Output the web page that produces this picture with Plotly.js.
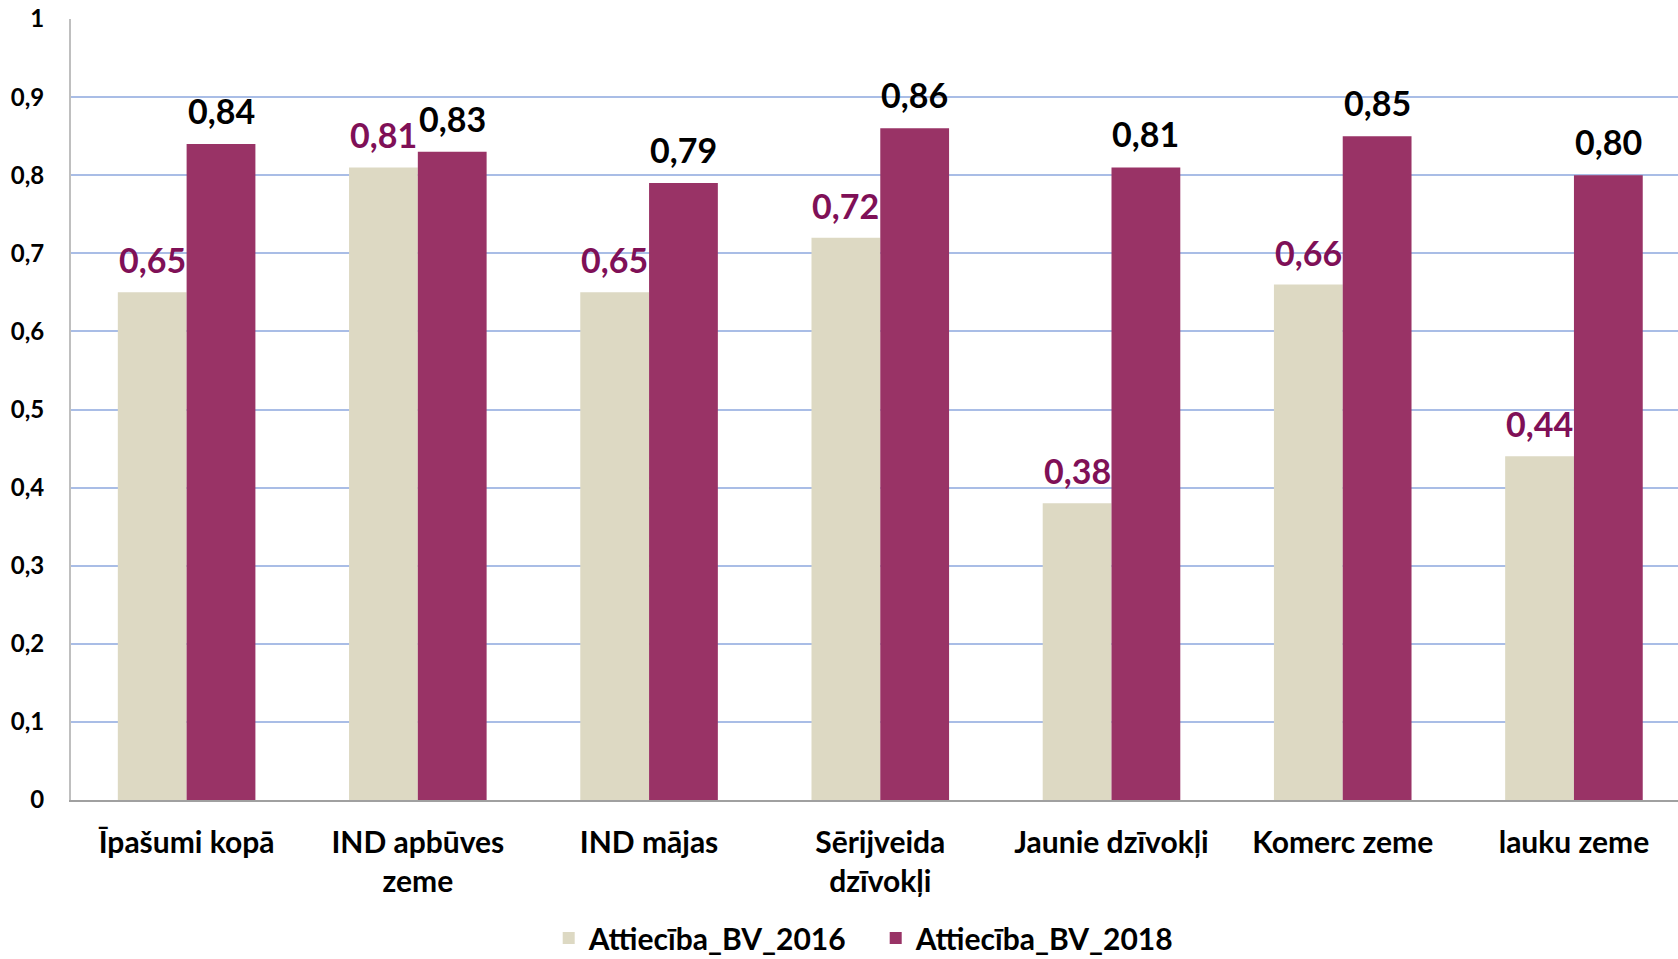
<!DOCTYPE html>
<html>
<head>
<meta charset="utf-8">
<script src="https://cdn.plot.ly/plotly-3.0.1.min.js"></script>
<style>html,body{margin:0;padding:0;background:#fff;}#chart{width:1678px;height:959px;}</style>
</head>
<body>
<div id="chart"></div>
<script>
const categories = ["Īpašumi kopā", "IND apbūves<br>zeme", "IND mājas", "Sērijveida<br>dzīvokļi", "Jaunie dzīvokļi", "Komerc zeme", "lauku zeme"];
const series2016 = [0.65, 0.81, 0.65, 0.72, 0.38, 0.66, 0.44];
const series2018 = [0.84, 0.83, 0.79, 0.86, 0.81, 0.85, 0.80];
const name2016 = "Attiecība_BV_2016";
const name2018 = "Attiecība_BV_2018";

const fmt = v => v.toFixed(2).replace('.', ',');
const FONT = "Lato, 'Open Sans', sans-serif";

const W = 1678, H = 959;
const M = {l: 71, r: 0, t: 19, b: 159};
const BARGAP = 0.405;
const XRANGE = [-0.5, 6.45];
const catPx = (W - M.l - M.r) / (XRANGE[1] - XRANGE[0]);
const halfBar = catPx * (1 - BARGAP) / 4;

const traces = [
  {type: 'bar', name: name2016, x: categories, y: series2016, marker: {color: '#DDD9C3'}},
  {type: 'bar', name: name2018, x: categories, y: series2018, marker: {color: '#993366'}}
];

const annotations = [];
categories.forEach((c, i) => {
  annotations.push({
    x: c, y: series2016[i], xref: 'x', yref: 'y', text: fmt(series2016[i]),
    showarrow: false, xanchor: 'center', yanchor: 'bottom', xshift: -halfBar, yshift: 10,
    font: {family: FONT, size: 34, color: '#7F1057', weight: 'bold'}
  });
  annotations.push({
    x: c, y: series2018[i], xref: 'x', yref: 'y', text: fmt(series2018[i]),
    showarrow: false, xanchor: 'center', yanchor: 'bottom', xshift: halfBar, yshift: 11,
    font: {family: FONT, size: 34, color: '#000000', weight: 'bold'}
  });
});

const layout = {
  width: W, height: H,
  margin: M,
  paper_bgcolor: '#fff', plot_bgcolor: '#fff',
  separators: ', ',
  barmode: 'group', bargap: BARGAP, bargroupgap: 0,
  font: {family: FONT, size: 22, color: '#000'},
  showlegend: true,
  legend: {
    orientation: 'h', x: 0.327, xanchor: 'left', xref: 'container',
    y: 0.022, yanchor: 'middle', yref: 'container',
    font: {family: FONT, size: 30, color: '#000', weight: 'bold'},
    itemwidth: 30, entrywidth: 282, entrywidthmode: 'pixels', tracegroupgap: 0
  },
  annotations: annotations,
  xaxis: {
    type: 'category', range: XRANGE,
    showline: true, linecolor: '#A0A0A0', linewidth: 2,
    ticks: '', showgrid: false,
    tickfont: {family: FONT, size: 30, color: '#000', weight: 'bold'},
    ticklabelstandoff: 15
  },
  yaxis: {
    range: [0, 1], dtick: 0.1, tick0: 0,
    showline: true, linecolor: '#BFBFBF', linewidth: 2,
    showgrid: true, gridcolor: '#A9BDE6', gridwidth: 2,
    zeroline: false, ticks: '',
    tickfont: {family: FONT, size: 24, color: '#000', weight: 'bold'},
    ticklabelstandoff: 20
  }
};

Plotly.newPlot('chart', traces, layout, {displayModeBar: false, staticPlot: true});
</script>
</body>
</html>
